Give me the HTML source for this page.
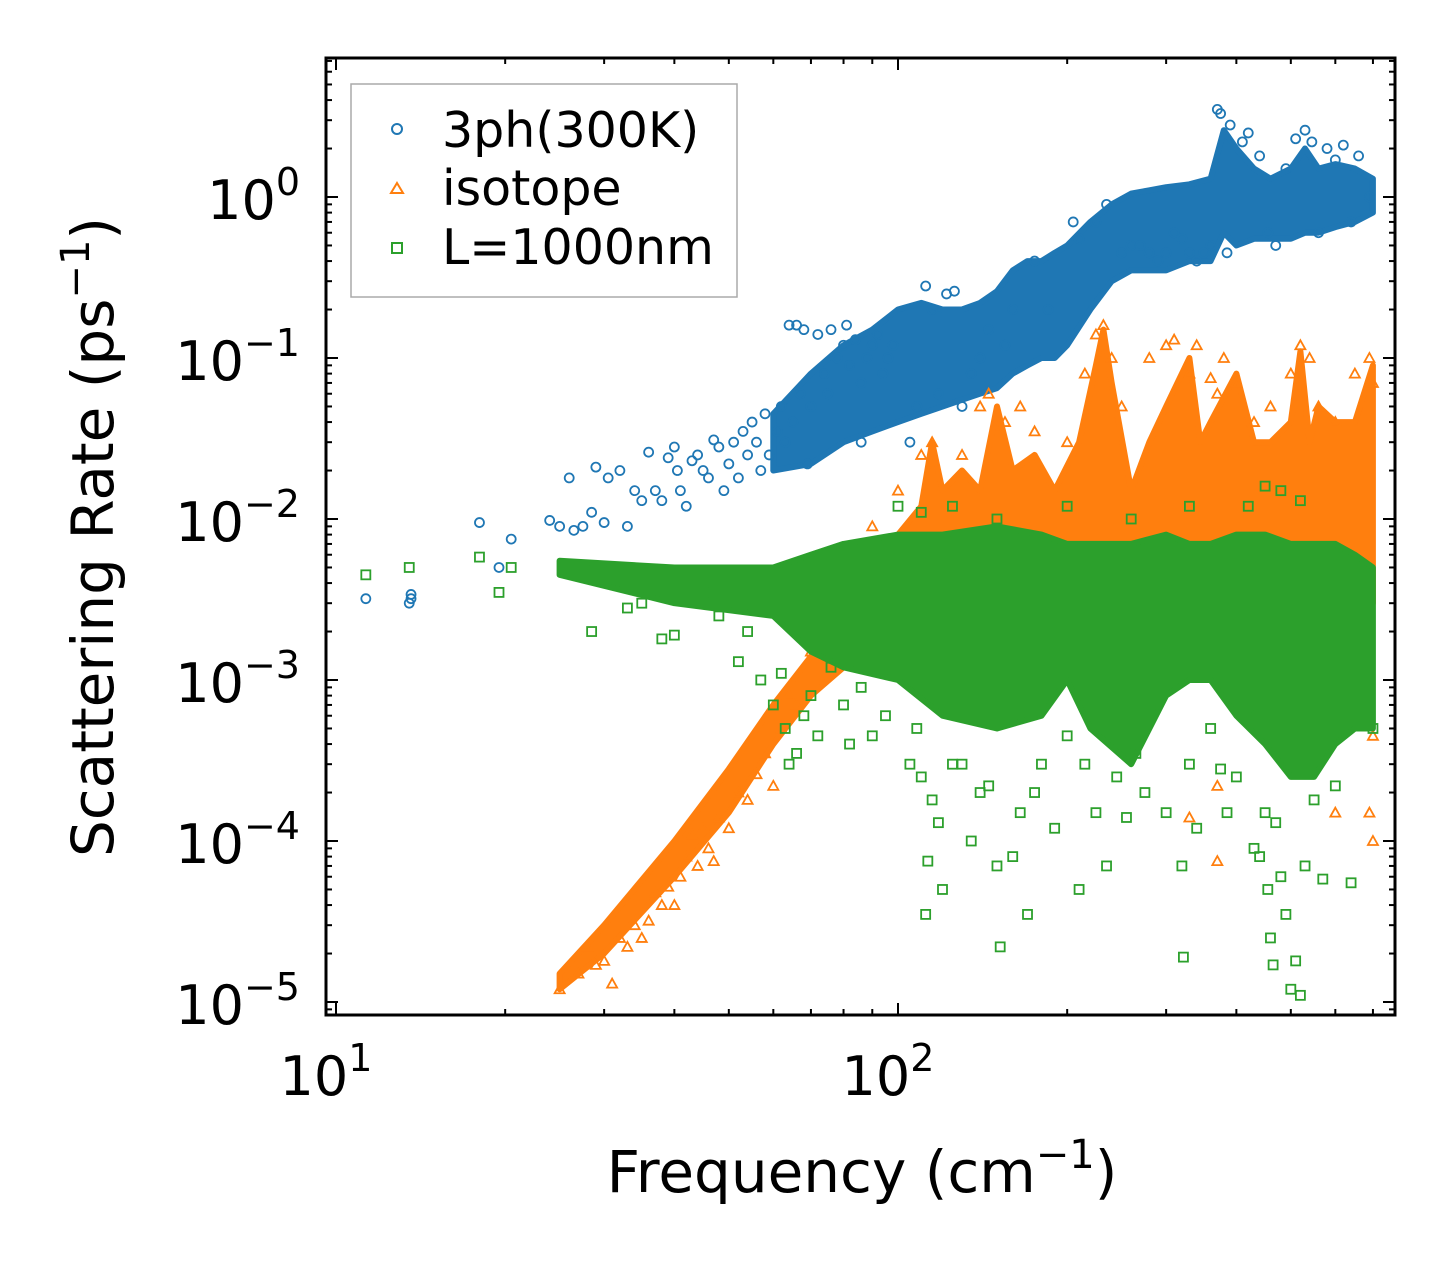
<!DOCTYPE html>
<html><head><meta charset="utf-8"><style>
body{margin:0;background:#fff}
svg{display:block;font-family:"DejaVu Sans","Liberation Sans",sans-serif}
</style></head><body>
<svg id="chart" width="1455" height="1265" viewBox="0 0 1455 1265" xmlns="http://www.w3.org/2000/svg">
<rect x="0" y="0" width="1455" height="1265" fill="#fff"/>
<g id="marks"></g>
<g id="axes"></g>
<g>
<rect x="351" y="84" width="386" height="213" fill="#fff" fill-opacity="0.85" stroke="#aaa" stroke-width="1.5"/>
<circle cx="397" cy="129" r="5" fill="none" stroke="#1f77b4" stroke-width="2"/>
<text x="442" y="147" font-size="49">3ph(300K)</text>
<path d="M397,183 L403,193 L391,193 Z" fill="none" stroke="#ff7f0e" stroke-width="2"/>
<text x="442" y="205" font-size="49">isotope</text>
<rect x="392" y="243" width="10" height="10" fill="none" stroke="#2ca02c" stroke-width="2"/>
<text x="442" y="264" font-size="49">L=1000nm</text>
</g>
<text x="862" y="1192" font-size="58" text-anchor="middle">Frequency (cm<tspan dy="-24" font-size="40">−1</tspan><tspan dy="24">)</tspan></text>
<text transform="translate(113,537) rotate(-90)" font-size="58" text-anchor="middle">Scattering Rate (ps<tspan dy="-24" font-size="40">−1</tspan><tspan dy="24">)</tspan></text>
</svg>
<script>
// ---- data ----
const xTickValues=[10,100];
const xTickExp=["1","2"];
const yTickValues=[1,0.1,0.01,0.001,0.0001,0.00001];
const yTickExp=["0","−1","−2","−3","−4","−5"];
// dense band envelopes
const bandFreq3=[60,70,80,90,100,110,120,130,140,150,160,170,180,190,200,220,240,260,280,300,330,360,380,400,430,460,500,530,560,600,650,700];
const bandLow3=[0.02,0.022,0.03,0.035,0.04,0.045,0.05,0.055,0.06,0.065,0.08,0.09,0.1,0.1,0.12,0.2,0.3,0.35,0.35,0.35,0.4,0.4,0.6,0.5,0.55,0.55,0.55,0.6,0.6,0.65,0.7,0.8];
const bandHigh3=[0.045,0.08,0.12,0.15,0.2,0.22,0.2,0.2,0.22,0.26,0.35,0.4,0.4,0.45,0.5,0.7,0.9,1.05,1.1,1.15,1.2,1.3,2.6,2.0,1.5,1.3,1.5,2.0,1.5,1.6,1.5,1.3];
const bandFreqIso=[25,30,40,50,60,70,80,90,100,110,115,120,130,140,150,160,175,190,210,225,232,240,260,280,300,330,345,360,400,430,460,500,520,540,560,600,650,700];
const bandLowIso=[1.2e-5,2e-5,6e-5,1.5e-4,4e-4,8e-4,1.2e-3,2e-3,2e-3,2e-3,3e-3,3e-3,3e-3,3e-3,3e-3,3e-3,3e-3,3e-3,3e-3,3e-3,3e-3,3e-3,2e-3,3e-3,3e-3,3e-3,3e-3,3e-3,3e-3,3e-3,3e-3,3e-3,3e-3,3e-3,4e-3,5e-3,5e-3,3e-3];
const bandHighIso=[1.5e-5,3e-5,1e-4,2.8e-4,7e-4,1.4e-3,2.5e-3,5e-3,8e-3,0.012,0.03,0.015,0.02,0.015,0.05,0.02,0.025,0.015,0.03,0.09,0.15,0.07,0.015,0.03,0.05,0.1,0.03,0.04,0.08,0.03,0.03,0.04,0.11,0.03,0.05,0.04,0.04,0.09];
const bandFreqL=[25,40,60,70,80,100,120,150,180,200,220,260,300,330,360,400,450,500,550,600,650,700];
const bandLowL=[4.5e-3,3e-3,2.5e-3,1.5e-3,1.2e-3,1e-3,6e-4,5e-4,6e-4,1e-3,5e-4,3e-4,8e-4,1e-3,1e-3,6e-4,4e-4,2.5e-4,2.5e-4,4e-4,5e-4,5e-4];
const bandHighL=[5.5e-3,5e-3,5e-3,6e-3,7e-3,8e-3,8e-3,9e-3,8e-3,7e-3,7e-3,7e-3,8e-3,7e-3,7e-3,8e-3,8e-3,7e-3,7e-3,7e-3,6e-3,5e-3];
// scattered points [freq, rate]
const points3ph=[[11.3,0.0032],[13.5,0.003],[13.6,0.0032],[13.6,0.0034],[18,0.0095],[19.5,0.005],[20.5,0.0075],[24,0.0098],[25,0.009],[26,0.018],[26.5,0.0085],[27.5,0.009],[28.5,0.011],[29,0.021],[30,0.0095],[30.5,0.018],[32,0.02],[33,0.009],[34,0.015],[35,0.013],[36,0.026],[37,0.015],[38,0.013],[39,0.024],[40,0.028],[40.5,0.02],[41,0.015],[42,0.012],[43,0.023],[44,0.025],[45,0.02],[46,0.018],[47,0.031],[48,0.028],[49,0.015],[50,0.022],[51,0.03],[52,0.018],[53,0.035],[54,0.025],[55,0.04],[56,0.03],[57,0.02],[58,0.045],[59,0.025],[61,0.035],[62,0.05],[63,0.03],[64,0.16],[65,0.04],[66,0.16],[67,0.06],[68,0.15],[69,0.022],[70,0.05],[72,0.14],[74,0.08],[75,0.06],[76,0.15],[78,0.1],[80,0.12],[81,0.16],[82,0.09],[84,0.13],[86,0.07],[86,0.03],[88,0.1],[90,0.12],[92,0.14],[94,0.08],[96,0.1],[98,0.12],[105,0.03],[108,0.05],[112,0.28],[115,0.2],[118,0.06],[122,0.25],[126,0.26],[130,0.05],[135,0.08],[140,0.1],[145,0.15],[155,0.12],[160,0.2],[175,0.4],[185,0.2],[205,0.7],[210,0.55],[225,0.7],[235,0.9],[250,0.45],[260,0.5],[270,0.5],[280,0.45],[290,0.4],[300,0.45],[310,0.6],[320,0.55],[330,0.45],[340,0.4],[350,0.45],[360,0.5],[370,3.5],[375,3.3],[385,0.45],[390,2.8],[410,2.2],[420,2.5],[440,1.8],[455,0.6],[470,0.5],[490,1.5],[510,2.3],[530,2.6],[545,2.2],[560,0.6],[580,2],[600,1.7],[620,2.1],[640,0.7],[660,1.8],[690,1.0]];
const pointsIso=[[25,1.2e-5],[27,1.5e-5],[28,2.2e-5],[29,1.7e-5],[30,1.8e-5],[31,1.3e-5],[32,2.5e-5],[33,2.2e-5],[34,3e-5],[35,2.5e-5],[36,3.2e-5],[37,4.8e-5],[38,4e-5],[39,5.2e-5],[40,4e-5],[41,6e-5],[42,8e-5],[43,1.1e-4],[44,7e-5],[45,1.2e-4],[46,9e-5],[47,7.5e-5],[48,1.4e-4],[50,1.2e-4],[52,2e-4],[54,1.8e-4],[56,2.6e-4],[58,3.5e-4],[60,2.2e-4],[62,5e-4],[64,8e-4],[66,7e-4],[70,1.5e-3],[75,1.8e-3],[90,9e-3],[100,0.015],[110,0.025],[115,0.03],[130,0.025],[140,0.05],[145,0.06],[155,0.04],[165,0.05],[175,0.035],[200,0.03],[215,0.08],[225,0.14],[232,0.16],[240,0.1],[250,0.05],[280,0.1],[300,0.12],[310,0.13],[330,0.08],[340,0.12],[360,0.075],[370,0.06],[380,0.1],[400,0.07],[430,0.04],[460,0.05],[500,0.08],[520,0.12],[540,0.1],[560,0.05],[600,0.04],[650,0.08],[690,0.1],[700,0.07],[330,1.4e-4],[370,7.5e-5],[370,2.2e-4],[600,1.5e-4],[690,1.5e-4],[700,1e-4],[700,4.5e-4]];
const pointsL=[[11.3,4.5e-3],[13.5,5e-3],[18,5.8e-3],[19.5,3.5e-3],[20.5,5e-3],[28.5,2e-3],[33,2.8e-3],[35,3e-3],[38,1.8e-3],[40,1.9e-3],[45,3.5e-3],[48,2.5e-3],[52,1.3e-3],[54,2e-3],[57,1e-3],[60,7e-4],[62,1.1e-3],[63,5e-4],[64,3e-4],[66,3.5e-4],[68,6e-4],[70,8e-4],[72,4.5e-4],[76,1.2e-3],[80,7e-4],[82,4e-4],[86,9e-4],[90,4.5e-4],[95,6e-4],[100,1.2e-2],[105,3e-4],[108,5e-4],[110,2.5e-4],[112,3.5e-5],[113,7.5e-5],[115,1.8e-4],[118,1.3e-4],[120,5e-5],[125,3e-4],[130,3e-4],[135,1e-4],[140,2e-4],[145,2.2e-4],[150,7e-5],[152,2.2e-5],[160,8e-5],[165,1.5e-4],[170,3.5e-5],[175,2e-4],[180,3e-4],[190,1.2e-4],[200,4.5e-4],[210,5e-5],[215,3e-4],[225,1.5e-4],[235,7e-5],[245,2.5e-4],[255,1.4e-4],[265,3.5e-4],[275,2e-4],[300,1.5e-4],[320,7e-5],[322,1.9e-5],[330,3e-4],[340,1.2e-4],[360,5e-4],[375,2.8e-4],[385,1.5e-4],[400,2.5e-4],[420,6e-4],[430,9e-5],[440,8e-5],[450,1.5e-4],[455,5e-5],[460,2.5e-5],[465,1.7e-5],[470,1.3e-4],[480,6e-5],[490,3.5e-5],[500,1.2e-5],[510,1.8e-5],[520,1.1e-5],[530,7e-5],[550,1.8e-4],[570,5.8e-5],[600,2.2e-4],[640,5.5e-5],[680,1e-3],[700,5e-4],[110,1.1e-2],[125,1.2e-2],[150,1e-2],[200,1.2e-2],[260,1e-2],[330,1.2e-2],[420,1.2e-2],[450,1.6e-2],[480,1.5e-2],[520,1.3e-2]];
// ---- axes ----
const X0=336, XD=562, Y0=197, YD=161;
const L=326,R=1395,T=58,B=1015;
function xs(v){return X0+(Math.log10(v)-1)*XD;}
function ys(v){return Y0-Math.log10(v)*YD;}
const NS="http://www.w3.org/2000/svg";
function mk(tag,attrs,parent){const e=document.createElementNS(NS,tag);for(const k in attrs)e.setAttribute(k,attrs[k]);parent.appendChild(e);return e;}
const marks=document.getElementById('marks'), axes=document.getElementById('axes');
const cp=mk('clipPath',{id:'clip'},marks);
mk('rect',{x:L,y:T,width:R-L,height:B-T},cp);
function band(f,lo,hi,color,name){
  let d='M'+f.map((v,i)=>xs(v).toFixed(1)+','+ys(hi[i]).toFixed(1)).join(' L');
  for(let i=f.length-1;i>=0;i--) d+=' L'+xs(f[i]).toFixed(1)+','+ys(lo[i]).toFixed(1);
  const p=mk('path',{d:d+'Z',fill:color,stroke:color,'stroke-width':6,'stroke-linejoin':'round','clip-path':'url(#clip)'},marks);
  
  
}
function scatter(pts,kind,color,name){
  const g=mk('g',{'clip-path':'url(#clip)'},marks);
  
  
  pts.forEach(p=>{
    const x=xs(p[0]),y=ys(p[1]);let e;
    if(kind==='c') e=mk('circle',{cx:x,cy:y,r:4.5,fill:'none',stroke:color,'stroke-width':1.8},g);
    else if(kind==='t') e=mk('path',{d:`M${x},${y-5} L${x+5},${y+4} L${x-5},${y+4}Z`,fill:'none',stroke:color,'stroke-width':1.8},g);
    else e=mk('rect',{x:x-4.5,y:y-4.5,width:9,height:9,fill:'none',stroke:color,'stroke-width':1.8},g);
    
    
  });
}
band(bandFreq3,bandLow3,bandHigh3,'#1f77b4','band-3ph');
scatter(points3ph,'c','#1f77b4','series-3ph');
band(bandFreqIso,bandLowIso,bandHighIso,'#ff7f0e','band-isotope');
scatter(pointsIso,'t','#ff7f0e','series-isotope');
band(bandFreqL,bandLowL,bandHighL,'#2ca02c','band-boundary');
scatter(pointsL,'s','#2ca02c','series-boundary');
// frame
const fr=mk('rect',{x:L,y:T,width:R-L,height:B-T,fill:'none',stroke:'#000','stroke-width':3},axes);


// x ticks
for(let dec=10;dec<=100;dec*=10){for(let m=1;m<10;m++){const v=dec*m;const x=xs(v);if(x<L||x>R)continue;const len=m===1?12:6;
  const t1=mk('line',{x1:x,x2:x,y1:B,y2:B-len,stroke:'#000','stroke-width':2},axes);
  
  
  mk('line',{x1:x,x2:x,y1:T,y2:T+len,stroke:'#000','stroke-width':2},axes);}}
xTickValues.forEach((v,i)=>{const t=mk('text',{x:xs(v)-10,y:1095,'font-size':54,'text-anchor':'middle'},axes);
  
  
  t.innerHTML='10<tspan dy="-24" font-size="38">'+xTickExp[i]+'</tspan>';});
// y ticks
for(let e=-6;e<=0;e++){for(let m=1;m<10;m++){const v=m*Math.pow(10,e);const y=ys(v);if(y<T||y>B)continue;const len=m===1?12:6;
  const t1=mk('line',{x1:L,x2:L+len,y1:y,y2:y,stroke:'#000','stroke-width':2},axes);
  
  
  mk('line',{x1:R,x2:R-len,y1:y,y2:y,stroke:'#000','stroke-width':2},axes);}}
yTickValues.forEach((v,i)=>{const t=mk('text',{x:300,y:ys(v)+22,'font-size':54,'text-anchor':'end'},axes);
  
  
  t.innerHTML='10<tspan dy="-24" font-size="38">'+yTickExp[i]+'</tspan>';});
</script>
</body></html>
